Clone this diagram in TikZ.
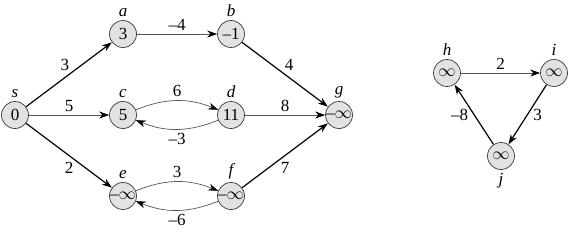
\documentclass[tikz,border=0pt]{standalone}
\usepackage{fontspec}
\setmainfont{Liberation Serif}
\usepackage{tikz}
\usetikzlibrary{arrows.meta, positioning}
\definecolor{nodegray}{RGB}{226,226,226}
\definecolor{rimgray}{RGB}{60,60,60}
\definecolor{linegray}{RGB}{85,85,85}
\tikzset{
  vertex/.style={
    circle, minimum size=27pt, inner sep=0pt,
    draw=rimgray, fill=nodegray, line width=0.7pt, text=black,
    font=\fontsize{17}{19}\selectfont
  },
  vlabel/.style={font=\fontsize{17}{19}\selectfont\itshape, text=black},
  weight/.style={font=\fontsize{17}{19}\selectfont, text=black},
  arrow/.style={-{Stealth[length=10pt, width=7pt, color=black]}, line width=0.7pt, color=linegray},
  boldarrow/.style={-{Stealth[length=10pt, width=7pt]}, line width=1.2pt, color=black},
}

\begin{document}
\begin{tikzpicture}[x=1pt, y=-1pt, node distance=81pt and 108pt, on grid,
                    label distance=0pt, every label/.style={vlabel}]
  \useasboundingbox (0,0) rectangle (571,231);

  % Left graph
  \node[vertex, label=above:s] (s) at (15,115) {0};
  \node[vertex, label=above:a, above right=of s] (a) {3};
  \node[vertex, label=above:c, right=of s] (c) {5};
  \node[vertex, label=above:e, below right=of s] (e) {\textendash$\infty$};
  \node[vertex, label=above:b, right=of a] (b) {\textendash1};
  \node[vertex, label=above:d, right=of c] (d) {11};
  \node[vertex, label=above:f, right=of e] (f) {\textendash$\infty$};
  \node[vertex, label=above:g, right=of d] (g) {\textendash$\infty$};

  % Right graph
  \node[vertex, label=above:h] (h) at (447,73) {$\infty$};
  \node[vertex, label=above:i, right=107pt of h] (i) {$\infty$};
  \node[vertex, label=below:j, below right=83pt and 54pt of h] (j) {$\infty$};

  % Edges of the left graph
  \draw[boldarrow] (s) -- node[weight, above left=0pt and 0pt, xshift=4pt]{3} (a);
  \draw[arrow] (s) -- node[weight, above]{5} (c);
  \draw[boldarrow] (s) -- node[weight, below, yshift=-3pt]{2} (e);
  \draw[arrow] (a) -- node[weight, above]{\textendash4} (b);
  \draw[arrow] (c) to[bend left=22] node[weight, above]{6} (d);
  \draw[arrow] (d) to[bend left=22] node[weight, below]{\textendash3} (c);
  \draw[arrow] (e) to[bend left=22] node[weight, above]{3} (f);
  \draw[arrow] (f) to[bend left=22] node[weight, below]{\textendash6} (e);
  \draw[boldarrow] (b) -- node[weight, above right=0pt and 0pt, xshift=-4pt]{4} (g);
  \draw[arrow] (d) -- node[weight, above]{8} (g);
  \draw[boldarrow] (f) -- node[weight, below, yshift=-3pt]{7} (g);

  % Edges of the right graph
  \draw[arrow] (h) -- node[weight, above]{2} (i);
  \draw[boldarrow] (i) -- node[weight, right, xshift=2pt]{3} (j);
  \draw[boldarrow] (j) -- node[weight, left, xshift=-2pt]{\textendash8} (h);

\end{tikzpicture}
\end{document}
